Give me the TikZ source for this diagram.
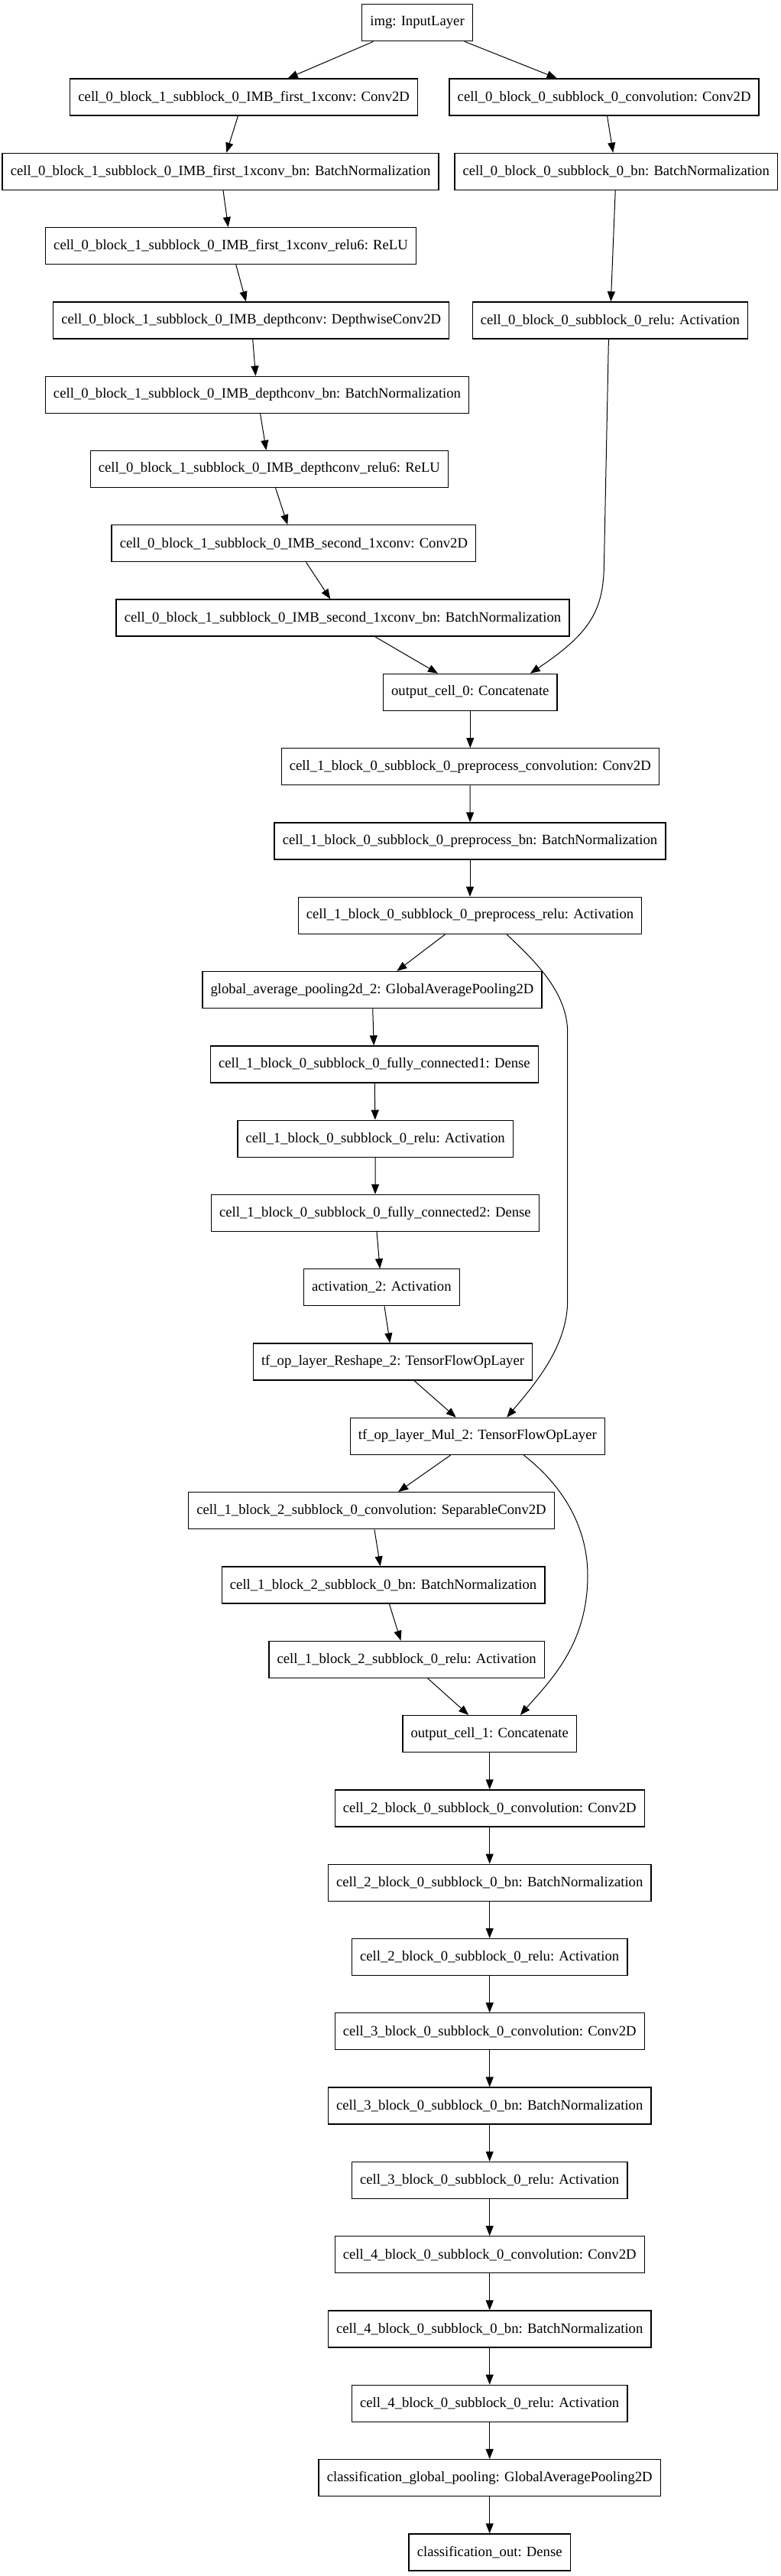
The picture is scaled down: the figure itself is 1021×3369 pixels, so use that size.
\documentclass[tikz,border=0pt]{standalone}
\usepackage{fontspec}
\setmainfont{Liberation Serif}
\usepackage{tikz}
\usetikzlibrary{arrows.meta}

\begin{document}
\begin{tikzpicture}[x=1pt, y=-1pt,
                    layer/.style={shape=rectangle, draw, line width=1.33pt, minimum height=48pt, inner xsep=10.67pt,
                                  font=\fontsize{18.67}{22}\selectfont},
                    flow/.style={line width=1pt, -{Triangle[length=13pt, width=10pt]}}]
        \useasboundingbox (0,0) rectangle (1021,3369);
        % cell 0
        \node[layer] (img) at (546,29.7) {img: InputLayer};
        \node[layer] (firstconv) at (319.2,127.0) {cell\_0\_block\_1\_subblock\_0\_IMB\_first\_1xconv: Conv2D};
        \node[layer] (convA) at (790.6,127.0) {cell\_0\_block\_0\_subblock\_0\_convolution: Conv2D};
        \node[layer] (firstbn) at (288.6,224.3) {cell\_0\_block\_1\_subblock\_0\_IMB\_first\_1xconv\_bn: BatchNormalization};
        \node[layer] (bnA) at (806.2,224.3) {cell\_0\_block\_0\_subblock\_0\_bn: BatchNormalization};
        \node[layer] (firstrelu) at (302,321.6) {cell\_0\_block\_1\_subblock\_0\_IMB\_first\_1xconv\_relu6: ReLU};
        \node[layer] (depth) at (328.7,418.9) {cell\_0\_block\_1\_subblock\_0\_IMB\_depthconv: DepthwiseConv2D};
        \node[layer] (reluA) at (798.4,418.9) {cell\_0\_block\_0\_subblock\_0\_relu: Activation};
        \node[layer] (depthbn) at (336.5,516.2) {cell\_0\_block\_1\_subblock\_0\_IMB\_depthconv\_bn: BatchNormalization};
        \node[layer] (depthrelu) at (352.4,613.5) {cell\_0\_block\_1\_subblock\_0\_IMB\_depthconv\_relu6: ReLU};
        \node[layer] (secondconv) at (384.4,710.8) {cell\_0\_block\_1\_subblock\_0\_IMB\_second\_1xconv: Conv2D};
        \node[layer] (secondbn) at (448.5,808.1) {cell\_0\_block\_1\_subblock\_0\_IMB\_second\_1xconv\_bn: BatchNormalization};
        \node[layer] (out0) at (615.3,905.4) {output\_cell\_0: Concatenate};
        % cell 1
        \node[layer] (preconv) at (615.3,1002.7) {cell\_1\_block\_0\_subblock\_0\_preprocess\_convolution: Conv2D};
        \node[layer] (prebn) at (615,1100.0) {cell\_1\_block\_0\_subblock\_0\_preprocess\_bn: BatchNormalization};
        \node[layer] (prerelu) at (615,1197.3) {cell\_1\_block\_0\_subblock\_0\_preprocess\_relu: Activation};
        \node[layer] (gap) at (487,1294.6) {global\_average\_pooling2d\_2: GlobalAveragePooling2D};
        \node[layer] (fc1) at (489.9,1391.9) {cell\_1\_block\_0\_subblock\_0\_fully\_connected1: Dense};
        \node[layer] (serelu) at (491.2,1489.2) {cell\_1\_block\_0\_subblock\_0\_relu: Activation};
        \node[layer] (fc2) at (490.9,1586.5) {cell\_1\_block\_0\_subblock\_0\_fully\_connected2: Dense};
        \node[layer] (act2) at (499.3,1683.8) {activation\_2: Activation};
        \node[layer] (reshape) at (514,1781.1) {tf\_op\_layer\_Reshape\_2: TensorFlowOpLayer};
        \node[layer] (mul) at (624.8,1878.4) {tf\_op\_layer\_Mul\_2: TensorFlowOpLayer};
        \node[layer] (sepconv) at (486,1975.7) {cell\_1\_block\_2\_subblock\_0\_convolution: SeparableConv2D};
        \node[layer] (sepbn) at (501.6,2073.0) {cell\_1\_block\_2\_subblock\_0\_bn: BatchNormalization};
        \node[layer] (seprelu) at (532.2,2170.3) {cell\_1\_block\_2\_subblock\_0\_relu: Activation};
        \node[layer] (out1) at (640.7,2267.6) {output\_cell\_1: Concatenate};
        % cells 2 to 4
        \node[layer] (conv2) at (640.7,2364.9) {cell\_2\_block\_0\_subblock\_0\_convolution: Conv2D};
        \node[layer] (bn2) at (640.7,2462.2) {cell\_2\_block\_0\_subblock\_0\_bn: BatchNormalization};
        \node[layer] (relu2) at (640.7,2559.5) {cell\_2\_block\_0\_subblock\_0\_relu: Activation};
        \node[layer] (conv3) at (640.7,2656.8) {cell\_3\_block\_0\_subblock\_0\_convolution: Conv2D};
        \node[layer] (bn3) at (640.7,2754.1) {cell\_3\_block\_0\_subblock\_0\_bn: BatchNormalization};
        \node[layer] (relu3) at (640.7,2851.4) {cell\_3\_block\_0\_subblock\_0\_relu: Activation};
        \node[layer] (conv4) at (640.7,2948.7) {cell\_4\_block\_0\_subblock\_0\_convolution: Conv2D};
        \node[layer] (bn4) at (640.7,3046.0) {cell\_4\_block\_0\_subblock\_0\_bn: BatchNormalization};
        \node[layer] (relu4) at (640.7,3143.3) {cell\_4\_block\_0\_subblock\_0\_relu: Activation};
        \node[layer] (clspool) at (640.7,3240.6) {classification\_global\_pooling: GlobalAveragePooling2D};
        \node[layer] (clsout) at (640.7,3337.9) {classification\_out: Dense};

        \draw[flow] (img) -- (firstconv);
        \draw[flow] (img) -- (convA);
        \draw[flow] (firstconv) -- (firstbn);
        \draw[flow] (firstbn) -- (firstrelu);
        \draw[flow] (firstrelu) -- (depth);
        \draw[flow] (depth) -- (depthbn);
        \draw[flow] (depthbn) -- (depthrelu);
        \draw[flow] (depthrelu) -- (secondconv);
        \draw[flow] (secondconv) -- (secondbn);
        \draw[flow] (secondbn) -- (out0);
        \draw[flow] (convA) -- (bnA);
        \draw[flow] (bnA) -- (reluA);
        \draw[flow] ([xshift=-2pt]reluA.south) -- ++(-6,297) .. controls +(-1,60) and +(76,-51) .. ([xshift=78.5pt]out0.north);
        \draw[flow] (out0) -- (preconv);
        \draw[flow] (preconv) -- (prebn);
        \draw[flow] (prebn) -- (prerelu);
        \draw[flow] (prerelu) -- (gap);
        \draw[flow] ([xshift=48pt]prerelu.south) .. controls +(42,39) and +(0,-50) .. ++(79.7,128.7)
                    -- ++(0,350) .. controls +(0,60) and +(37,-44) .. ([xshift=38.4pt]mul.north);
        \draw[flow] (gap) -- (fc1);
        \draw[flow] (fc1) -- (serelu);
        \draw[flow] (serelu) -- (fc2);
        \draw[flow] (fc2) -- (act2);
        \draw[flow] (act2) -- (reshape);
        \draw[flow] (reshape) -- (mul);
        \draw[flow] (mul) -- (sepconv);
        \draw[flow] ([xshift=60.5pt]mul.south) .. controls +(55,43) and +(0,-60) .. ++(83.7,157.6)
                    .. controls +(0,90) and +(39,-44.6) .. ([xshift=40.1pt]out1.north);
        \draw[flow] (sepconv) -- (sepbn);
        \draw[flow] (sepbn) -- (seprelu);
        \draw[flow] (seprelu) -- (out1);
        \draw[flow] (out1) -- (conv2);
        \draw[flow] (conv2) -- (bn2);
        \draw[flow] (bn2) -- (relu2);
        \draw[flow] (relu2) -- (conv3);
        \draw[flow] (conv3) -- (bn3);
        \draw[flow] (bn3) -- (relu3);
        \draw[flow] (relu3) -- (conv4);
        \draw[flow] (conv4) -- (bn4);
        \draw[flow] (bn4) -- (relu4);
        \draw[flow] (relu4) -- (clspool);
        \draw[flow] (clspool) -- (clsout);
    \end{tikzpicture}
\end{document}
